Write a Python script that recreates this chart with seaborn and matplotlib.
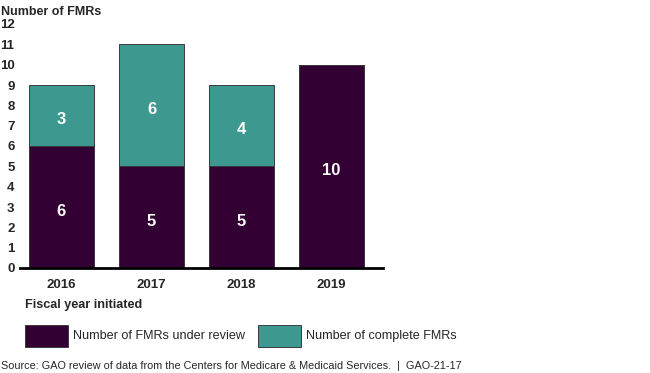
import matplotlib
matplotlib.use("Agg")
import matplotlib.pyplot as plt
import seaborn as sns
import pandas as pd
from matplotlib.patches import Rectangle

years = ["2016", "2017", "2018", "2019"]
under_review = [6, 5, 5, 10]
complete = [3, 6, 4, 0]
yticks = list(range(0, 13))

sns.set_theme(style="white")
plt.rcParams['font.family'] = ['Liberation Sans', 'DejaVu Sans']

PURPLE = "#330033"
TEAL = "#3d9990"
EDGE = "#3a3a3a"

df = pd.DataFrame({"year": years, "review": under_review, "complete": complete})
df["total"] = df["review"] + df["complete"]

fig = plt.figure(figsize=(6.5, 3.73), dpi=100)
ax = fig.add_axes([20/650, 1-268/373, (383-20)/650, (268-24)/373])

sns.barplot(data=df, x="year", y="total", color=TEAL, width=0.72, ax=ax,
            edgecolor=EDGE, linewidth=0.7, saturation=1)
sns.barplot(data=df, x="year", y="review", color=PURPLE, width=0.72, ax=ax,
            edgecolor=EDGE, linewidth=0.7, saturation=1)

bars = ax.patches
n = len(years)
shift = 0.2
for i in range(n):
    bb = bars[n + i]
    cx = bb.get_x() + bb.get_width() / 2
    ax.text(cx, under_review[i] / 2 - shift, str(under_review[i]), ha="center", va="center",
            color="white", fontsize=12, fontweight="bold")
    if complete[i] > 0:
        ax.text(cx, under_review[i] + complete[i] / 2 - shift, str(complete[i]), ha="center",
                va="center", color="white", fontsize=12, fontweight="bold")

ax.set_ylim(0, 12)
ax.set_xlim(-0.46, 3.57)
ax.set_yticks(yticks)
ax.set_yticklabels([str(t) for t in yticks], fontsize=9.5, fontweight="bold")
for lab in ax.get_xticklabels():
    lab.set_fontsize(9.5)
    lab.set_fontweight("bold")
ax.set_xlabel("")
ax.set_ylabel("")
ax.tick_params(axis="x", length=0, pad=8)
ax.tick_params(axis="y", length=0, pad=4)
for s in ["top", "right", "left"]:
    ax.spines[s].set_visible(False)
ax.spines["bottom"].set_color("black")
ax.spines["bottom"].set_linewidth(2)

fig.text(1/650, 1-12/373, "Number of FMRs", fontsize=9, fontweight="bold",
         ha="left", va="center")
fig.text(25/650, 1-305/373, "Fiscal year initiated", fontsize=9.1, fontweight="bold",
         ha="left", va="center")

# legend
for x0, col, lab in [(25, PURPLE, "Number of FMRs under review"),
                     (258, TEAL, "Number of complete FMRs")]:
    fig.patches.append(Rectangle((x0/650, 1-347/373), 43/650, 22/373,
                                 transform=fig.transFigure, facecolor=col,
                                 edgecolor=EDGE, linewidth=0.7))
    fig.text((x0+48)/650, 1-336/373, lab, fontsize=9.1, ha="left", va="center")

fig.text(1/650, 1-366/373,
         "Source: GAO review of data from the Centers for Medicare & Medicaid Services.  |  GAO-21-17",
         fontsize=7.8, ha="left", va="center")

fig.savefig("out.png", dpi=100)
